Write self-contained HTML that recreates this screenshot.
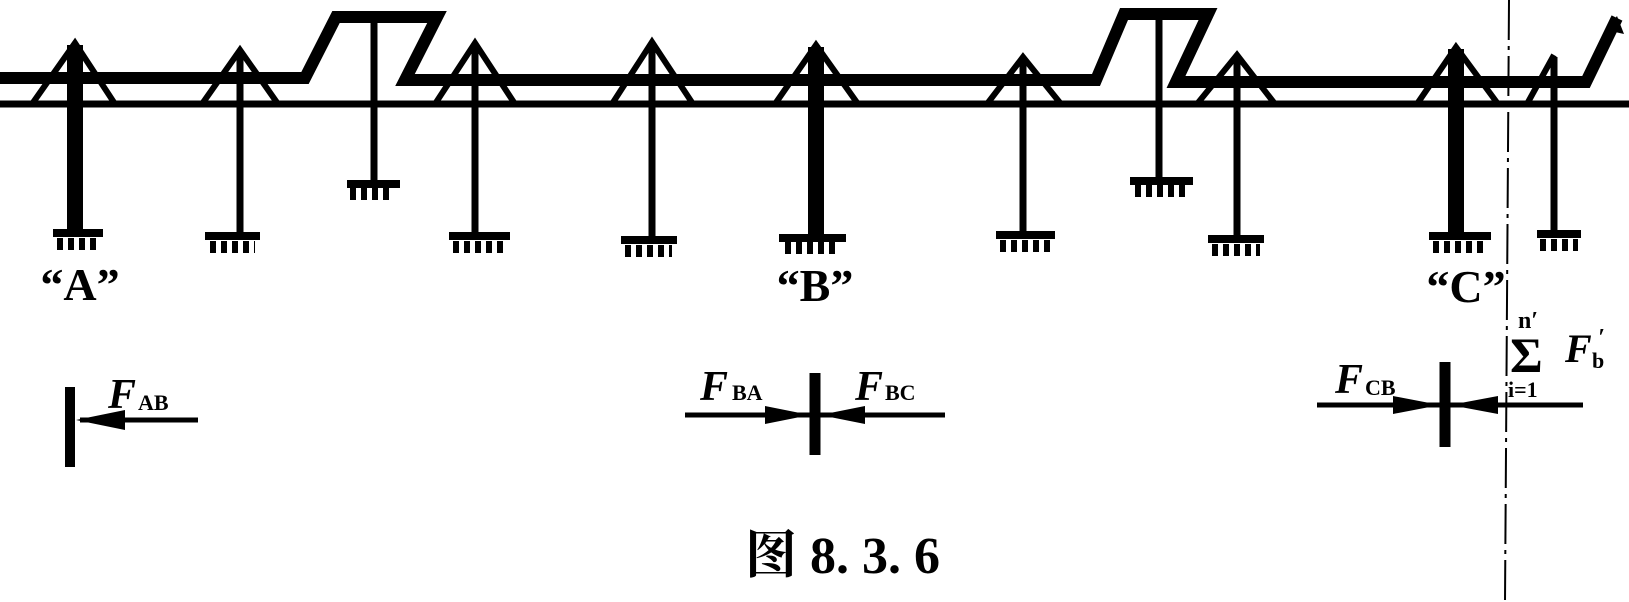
<!DOCTYPE html>
<html><head><meta charset="utf-8"><style>
html,body{margin:0;padding:0;background:#fff;}
svg{display:block}
text{font-family:"Liberation Serif","Noto Serif CJK SC",serif;font-weight:bold;fill:#000}
</style></head><body>
<svg width="1629" height="602" viewBox="0 0 1629 602" xmlns="http://www.w3.org/2000/svg">
<g stroke="#000" fill="none" stroke-linejoin="miter">
<line x1="0" y1="104" x2="1629" y2="104" stroke-width="7"/>
<polyline points="0,78 305,78 336,17 437,17 405,80 1096,80 1124,14 1208,14 1176,82 1586,82 1617,18" stroke-width="12"/>
<g stroke-width="6">
<polyline points="32,104 75,43 115,104"/>
<polyline points="202,104 240,50 278,104"/>
<polyline points="435,104 475,43 515,104"/>
<polyline points="612,104 652,42 693,104"/>
<polyline points="775,104 816,45 858,104"/>
<polyline points="987,104 1023,57 1061,104"/>
<polyline points="1197,104 1237,55 1275,104"/>
<polyline points="1417,104 1456,47 1498,104"/>
<polyline points="1527,104 1554,55"/>
</g>
<line x1="75" y1="45" x2="75" y2="232" stroke-width="16"/>
<line x1="240" y1="52" x2="240" y2="235" stroke-width="7"/>
<line x1="374" y1="17" x2="374" y2="183" stroke-width="7"/>
<line x1="475" y1="45" x2="475" y2="235" stroke-width="7"/>
<line x1="652" y1="44" x2="652" y2="238" stroke-width="7"/>
<line x1="816" y1="47" x2="816" y2="237" stroke-width="16"/>
<line x1="1023" y1="59" x2="1023" y2="233" stroke-width="7"/>
<line x1="1159" y1="14" x2="1159" y2="180" stroke-width="7"/>
<line x1="1237" y1="57" x2="1237" y2="238" stroke-width="7"/>
<line x1="1456" y1="49" x2="1456" y2="235" stroke-width="16"/>
<line x1="1554" y1="57" x2="1554" y2="233" stroke-width="7"/>
<g stroke-width="8">
<line x1="53" y1="233" x2="103" y2="233"/>
<line x1="205" y1="236" x2="260" y2="236"/>
<line x1="347" y1="184" x2="400" y2="184"/>
<line x1="449" y1="236" x2="510" y2="236"/>
<line x1="621" y1="240" x2="677" y2="240"/>
<line x1="779" y1="238" x2="846" y2="238"/>
<line x1="996" y1="235" x2="1055" y2="235"/>
<line x1="1130" y1="181" x2="1193" y2="181"/>
<line x1="1208" y1="239" x2="1264" y2="239"/>
<line x1="1429" y1="236" x2="1491" y2="236"/>
<line x1="1537" y1="234" x2="1581" y2="234"/>
</g>
<g stroke-width="12" stroke-dasharray="6 5">
<line x1="57" y1="244" x2="100" y2="244"/>
<line x1="210" y1="247" x2="255" y2="247"/>
<line x1="350" y1="194" x2="392" y2="194"/>
<line x1="453" y1="247" x2="505" y2="247"/>
<line x1="625" y1="251" x2="672" y2="251"/>
<line x1="785" y1="248" x2="840" y2="248"/>
<line x1="1000" y1="246" x2="1050" y2="246"/>
<line x1="1135" y1="191" x2="1185" y2="191"/>
<line x1="1212" y1="250" x2="1260" y2="250"/>
<line x1="1433" y1="247" x2="1485" y2="247"/>
<line x1="1540" y1="245" x2="1578" y2="245"/>
</g>
<line x1="1509" y1="0" x2="1505" y2="602" stroke-width="2" stroke-dasharray="40 6 4 6"/>
<line x1="70" y1="387" x2="70" y2="467" stroke-width="10"/>
<line x1="80" y1="420" x2="198" y2="420" stroke-width="5"/>
<line x1="815" y1="373" x2="815" y2="455" stroke-width="11"/>
<line x1="685" y1="415" x2="945" y2="415" stroke-width="5"/>
<line x1="1445" y1="362" x2="1445" y2="447" stroke-width="11"/>
<line x1="1317" y1="405" x2="1583" y2="405" stroke-width="5"/>
</g>
<g fill="#000">
<polygon points="76,420 125,410 125,430"/>
<polygon points="810,415 765,406 765,424"/>
<polygon points="820,415 865,406 865,424"/>
<polygon points="1440,405 1393,396 1393,414"/>
<polygon points="1450,405 1498,396 1498,414"/>
<polygon points="1617,16 1624,34 1606,30"/>
</g>
<text x="80" y="300" font-size="46" text-anchor="middle">“A”</text>
<text x="815" y="301" font-size="46" text-anchor="middle">“B”</text>
<text x="1466" y="302" font-size="46" text-anchor="middle">“C”</text>
<text x="108" y="408" font-size="42" font-style="italic">F</text><text x="138" y="410" font-size="22">AB</text>
<text x="700" y="400" font-size="42" font-style="italic">F</text><text x="732" y="400" font-size="22">BA</text>
<text x="855" y="400" font-size="42" font-style="italic">F</text><text x="885" y="400" font-size="22">BC</text>
<text x="1335" y="393" font-size="42" font-style="italic">F</text><text x="1365" y="395" font-size="22">CB</text>
<text x="1518" y="328" font-size="24">n′</text>
<text x="1510" y="372" font-size="50">Σ</text>
<text x="1508" y="397" font-size="22">i=1</text>
<text x="1565" y="362" font-size="40" font-style="italic">F</text><text x="1592" y="368" font-size="22">b</text><text x="1598" y="345" font-size="24" font-style="italic">′</text>
<text x="745" y="573" font-size="52">图 8. 3. 6</text>
</svg>
</body></html>
